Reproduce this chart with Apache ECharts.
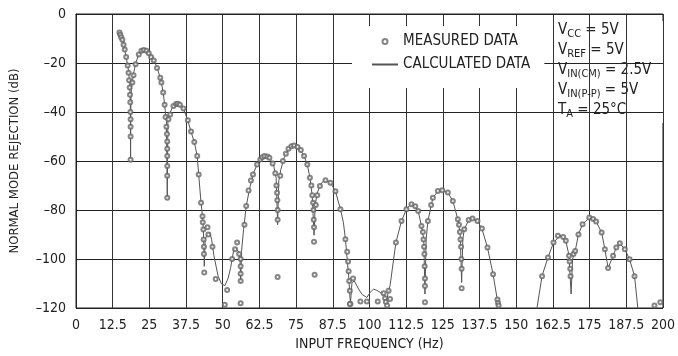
<!DOCTYPE html>
<html>
<head>
<meta charset="utf-8">
<script src="https://cdn.jsdelivr.net/npm/echarts@6/dist/echarts.min.js"></script>
<style>
  html, body { margin: 0; padding: 0; background: #fff; }
  #chart { width: 678px; height: 356px; }
</style>
</head>
<body>
<div id="chart"></div>
<script>
const FONT = '"Liberation Sans Narrow", "Arial Narrow", "DejaVu Sans Condensed", sans-serif';

const xTicks = { min: 0, max: 200, step: 12.5 };
const yTicks = { min: -120, max: 0, step: 20 };

// calculated response, [frequency Hz, rejection dB]
const calculated = [
  [14.8, -7.5], [15.8, -10.2], [16.3, -12.9], [17.1, -17.6], [17.8, -22.4], [18.3, -28], [18.5, -36],
  [18.6, -59], [18.7, -36], [18.9, -30], [19.5, -25], [20.3, -20.3], [21.4, -16.3], [22.3, -15],
  [23.1, -14.6], [24, -15], [24.8, -16], [26.5, -19], [27.6, -21.7], [29.1, -27.8], [29.9, -33.9],
  [30.4, -39.3], [30.8, -44], [31.1, -75], [31.3, -44], [31.6, -41.5], [32.1, -40.2], [33.2, -37.3],
  [34.7, -36.6], [35.7, -37.3], [36.6, -38.6], [38.1, -43.4], [39.2, -48.1], [40.3, -52.2], [41.3, -58],
  [41.8, -65.5], [42.6, -77], [43.1, -82.5], [43.4, -88], [43.7, -103], [44.0, -92], [44.8, -89.9],
  [45.6, -89.2], [46.2, -92], [47, -98.7], [48.4, -106.9], [49.5, -110], [50.7, -110.9], [51.8, -108],
  [52.7, -103.5], [53.8, -96], [54.6, -95.8], [55.4, -97], [55.9, -100], [56.1, -109.6], [56.4, -97],
  [57.1, -87.9], [58, -78.4], [59.1, -71.6], [60.3, -65.5], [61.7, -61.4], [62.8, -59.4], [64.2, -58],
  [65.9, -58.7], [67.4, -62.1], [68.2, -67], [68.7, -86], [69.1, -68], [69.8, -63.5], [70.9, -58.7],
  [72.1, -56], [73.2, -54.2], [74.3, -53.7], [76, -54.6], [77.7, -58], [78.8, -61.4], [79.7, -66.8],
  [80.5, -74.3], [81.1, -90.3], [81.5, -78], [82.2, -73], [83.1, -70.2], [84, -68.5], [85, -67.9],
  [86.7, -68.9], [88.4, -72.3], [90.1, -79.7], [91.1, -85], [91.8, -91.9], [92.9, -106.9], [93.5, -118.4],
  [94, -110], [94.8, -108.9], [96.3, -112.3], [97.5, -114.5], [99.1, -115.7], [100.3, -113.5],
  [101.4, -112.3], [102.5, -112.8], [103.6, -113.6], [104.8, -114.5], [105.5, -116], [105.9, -117.7],
  [106.3, -114], [107, -110.9], [109, -93.3], [110.9, -84.5], [112.6, -79.7], [113.8, -78], [114.9, -77.7],
  [116.6, -80.4], [117.7, -86.5], [118.5, -91.9], [118.9, -114.3], [119.3, -92], [119.9, -84.5],
  [121.6, -75], [123.2, -72.5], [124.8, -71.9], [126.7, -72.9], [128.4, -76.3], [130.1, -83.8],
  [130.9, -90], [131.4, -109.6], [131.8, -92], [132.3, -87.9], [133.8, -84.1], [135.1, -83.5],
  [136.8, -84.5], [138.3, -87.6], [140.2, -95.3], [142.1, -106.2], [143.6, -117], [144.2, -121],
  [150, -140], [156.5, -122], [157.1, -119.7], [158.8, -106.9], [160.8, -99.4], [162.7, -93.3],
  [165, -90.3], [166.9, -92.6], [168, -98.7], [168.7, -114.3], [169.2, -100], [170.1, -96.7],
  [171.2, -89.9], [172.6, -85.8], [174.9, -83.1], [177.2, -84.7], [179.1, -89.2], [180.2, -96],
  [181.3, -103.7], [183, -98.7], [184.1, -95.3], [185.3, -93.6], [187, -96], [188.6, -100.1],
  [190.3, -106.9], [191.4, -119.7], [192, -125]
];

// measured points
const measured = [
  [14.8, -7.5], [15.1, -8.5], [15.4, -9.5], [15.8, -10.5], [16.2, -12.5], [16.6, -14.5], [17.1, -17.5],
  [17.6, -21], [17.9, -24], [18.1, -27], [18.3, -30], [18.4, -33], [18.5, -36], [18.55, -40], [18.6, -43],
  [18.6, -46], [18.6, -50], [18.6, -59.5],
  [19.2, -28], [19.6, -25], [20.3, -20.5], [21.4, -16.5], [22.3, -15], [23.1, -14.7], [24, -15],
  [24.8, -16], [25.6, -17.5], [26.5, -19], [27.6, -22], [28.7, -26], [29.1, -28], [29.7, -32], [30.2, -37],
  [30.5, -42], [30.8, -46], [31, -49], [31.1, -52], [31.1, -55], [31.1, -58], [31.1, -62], [31.1, -66],
  [31.1, -75], [31.5, -43], [32.1, -41], [33.2, -37.5], [34.1, -36.7], [34.7, -36.6], [35.4, -37],
  [36.6, -38.6], [38.1, -43.4], [39.2, -48], [40.3, -52.2], [41.3, -58], [41.8, -65.5], [42.6, -77],
  [43.1, -82.5], [43.2, -85], [43.4, -88], [43.5, -92], [43.6, -95], [43.6, -98], [43.7, -105.5],
  [44.8, -87], [45.1, -90], [46.5, -95], [47.6, -108.2], [50.7, -118.7], [51.5, -112.7], [53.2, -100],
  [54.2, -96], [54.9, -93.3], [55.6, -98], [56.1, -100], [56.1, -103], [56.1, -106], [56.1, -109],
  [56.1, -118.1], [57.4, -86], [58, -78.4], [58.8, -72], [59.6, -68], [60.3, -65.5], [61.7, -61.4],
  [62.8, -59.4], [63.5, -58.5], [64.2, -58], [65.2, -58.2], [65.9, -58.7], [67, -61], [67.9, -65],
  [68.3, -70], [68.5, -73], [68.6, -76], [68.7, -80], [68.7, -84], [68.7, -107.3], [69.6, -66],
  [70.5, -60], [71.5, -57], [72.4, -55], [73.4, -54], [74.3, -53.7], [75.5, -54.3], [76.6, -55.5],
  [77.7, -58], [78.8, -61.4], [79.7, -66.8], [80.2, -70], [80.5, -74], [80.8, -77], [80.9, -80],
  [81, -84], [81.1, -87], [81.1, -93], [81.3, -106.4], [81.7, -78], [82.2, -74], [83.1, -70.2],
  [85, -67.9], [86.7, -68.9], [88.4, -72.3], [90.1, -79.7], [91.8, -91.9], [92.4, -97], [92.7, -101],
  [92.9, -105], [93.1, -109], [93.3, -113], [93.5, -118.4], [93.3, -118.4], [94.4, -108], [96.9, -117.3],
  [99.1, -117.3], [102.8, -117.3], [104.8, -114], [105.3, -116], [105.6, -117.5], [106, -119],
  [107, -116.3], [106.5, -113], [109, -93.3], [110.9, -84.5], [112.6, -79.7], [114.3, -77.7],
  [115.6, -78.5], [116.6, -80.4], [117.7, -86.5], [118.2, -89], [118.4, -92], [118.6, -95], [118.7, -98],
  [118.8, -103], [118.9, -108], [118.9, -111], [118.9, -117.7], [119.9, -84.5], [121, -78], [121.6, -75],
  [123.3, -72.2], [124.8, -71.9], [126.7, -72.9], [128.4, -76.3], [130.1, -83.8], [130.5, -86],
  [130.8, -89], [131, -92], [131.2, -95], [131.3, -100], [131.4, -104], [131.4, -111.9], [132.3, -87.9],
  [133.8, -84.1], [135.1, -83.5], [136.8, -84.5], [138.3, -87.6], [140.2, -95.3], [142.1, -106.2],
  [143.6, -116.5], [143.8, -118], [144, -119],
  [158.8, -107], [160.8, -99.4], [162.7, -93.3], [164.2, -90.5], [166, -91], [166.9, -92.6], [168, -98.7],
  [168.2, -101], [168.4, -104], [168.5, -107], [169.5, -98], [170.1, -96.7], [171.2, -90], [172.6, -85.8],
  [174.9, -83.1], [176.2, -83.7], [177.2, -84.7], [179.1, -89.2], [180.2, -96], [181.3, -103.7],
  [183, -98.7], [184.1, -95.3], [185.3, -93.6], [187, -96], [188.6, -100.1], [190.3, -107],
  [197.1, -119], [199.1, -117.7]
];

const seriesNames = ['MEASURED DATA', 'CALCULATED DATA'];

// test conditions box, subscripts via rich text
const conditions = [
  '{m|V}{s|CC}{m| = 5V}',
  '{m|V}{s|REF}{m| = 5V}',
  '{m|V}{s|IN(CM)}{m| = 2.5V}',
  '{m|V}{s|IN(P-P)}{m| = 5V}',
  '{m|T}{s|A}{m| = 25°C}'
];

const chart = echarts.init(document.getElementById('chart'));

chart.setOption({
  animation: false,
  textStyle: { fontFamily: FONT },
  grid: {
    left: 73, right: 13, top: 14, bottom: 47,
    show: true, borderColor: '#222', borderWidth: 1
  },
  legend: {
    data: [
      { name: seriesNames[0], itemStyle: { borderWidth: 1 } },
      { name: seriesNames[1], itemStyle: { opacity: 0 } }
    ],
    orient: 'vertical',
    left: 352,
    top: 26,
    itemWidth: 26,
    itemHeight: 5,
    itemGap: 8,
    padding: [8, 14, 16, 19],
    backgroundColor: '#fff',
    textStyle: { fontSize: 15, color: '#222', fontFamily: FONT, lineHeight: 14 }
  },
  xAxis: {
    type: 'value',
    min: xTicks.min, max: xTicks.max, interval: xTicks.step,
    name: 'INPUT FREQUENCY (Hz)',
    nameLocation: 'middle',
    nameGap: 29,
    nameTextStyle: { fontSize: 14, color: '#222' },
    axisLine: { lineStyle: { color: '#222' } },
    axisTick: { show: false },
    axisLabel: { fontSize: 14, color: '#222', margin: 10 },
    splitLine: { show: true, lineStyle: { color: '#333', width: 1 } }
  },
  yAxis: {
    type: 'value',
    min: yTicks.min, max: yTicks.max, interval: yTicks.step,
    name: 'NORMAL MODE REJECTION (dB)',
    nameLocation: 'middle',
    nameRotate: 90,
    nameGap: 55,
    nameTextStyle: { fontSize: 13, color: '#222' },
    axisLine: { show: true, lineStyle: { color: '#222' } },
    axisTick: { show: false },
    axisLabel: {
      fontSize: 14, color: '#222', margin: 10,
      formatter: (v) => String(v).replace('-', '–')
    },
    splitLine: { show: true, lineStyle: { color: '#222', width: 1 } }
  },
  series: [
    {
      name: seriesNames[0],
      type: 'scatter',
      data: measured,
      symbol: 'emptyCircle',
      symbolSize: 4,
      itemStyle: { color: '#666', borderWidth: 0.8 },
      z: 3
    },
    {
      name: seriesNames[1],
      type: 'line',
      data: calculated,
      symbol: 'none',
      itemStyle: { color: '#444' },
      lineStyle: { color: '#555', width: 1 },
      z: 2
    }
  ],
  graphic: [
    {
      type: 'group',
      left: 555,
      top: 21,
      z: 100,
      children: [
        {
          type: 'rect',
          shape: { x: 0, y: 0, width: 111, height: 102 },
          style: { fill: '#fff' }
        },
        {
          type: 'text',
          x: 3,
          y: -1,
          style: {
            text: conditions.join('\n'),
            fill: '#222',
            rich: {
              m: { fontSize: 15, lineHeight: 20, fontFamily: FONT, fill: '#222' },
              s: { fontSize: 11, lineHeight: 12, fontFamily: FONT, fill: '#222', verticalAlign: 'bottom' }
            }
          }
        }
      ]
    }
  ]
});
</script>
</body>
</html>
